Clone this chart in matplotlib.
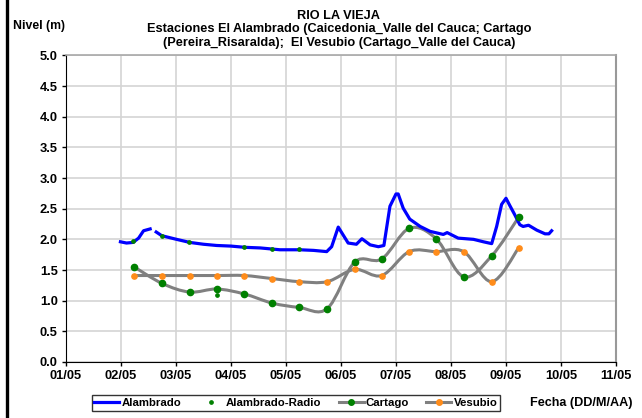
import numpy as np
import matplotlib
matplotlib.use("Agg")
import matplotlib.pyplot as plt
from matplotlib.path import Path
from matplotlib.patches import PathPatch
from matplotlib.lines import Line2D

plt.rcParams['font.family'] = ['Liberation Sans', 'DejaVu Sans']
plt.rcParams['font.weight'] = 'bold'

# days of May 2005
alam_x = [1.99, 2.1, 2.22, 2.32, 2.41, 2.53, np.nan, 2.64, 2.74, 3.01, 3.25, 3.5, 3.74, 4.0, 4.25,
          4.53, 4.89, 5.25, 5.5, 5.74, 5.83, 5.95, 6.13, 6.28, 6.38, 6.53, 6.68, 6.78, 6.89, 7.0,
          7.04, 7.13, 7.25, 7.44, 7.62, 7.86, 7.93, 8.13, 8.41, 8.59, 8.74, 8.83, 8.92, 9.0, 9.07,
          9.16, 9.25, 9.31, 9.41, 9.56, 9.71, 9.78, 9.83]
alam_y = [1.96, 1.94, 1.95, 2.02, 2.14, 2.17, np.nan, 2.12, 2.06, 2.0, 1.95, 1.92, 1.90, 1.89, 1.87,
          1.86, 1.83, 1.83, 1.82, 1.80, 1.88, 2.20, 1.94, 1.92, 2.01, 1.91, 1.88, 1.90, 2.54, 2.74,
          2.74, 2.51, 2.33, 2.21, 2.13, 2.08, 2.11, 2.02, 2.0, 1.96, 1.93, 2.21, 2.57, 2.67, 2.55,
          2.40, 2.24, 2.21, 2.23, 2.15, 2.09, 2.09, 2.14]

radio_x = [2.22, 2.74, 3.24, 3.74, 4.24, 4.75, 5.24]
radio_y = [1.97, 2.06, 1.96, 1.10, 1.88, 1.85, 1.84]

cart_x = [2.24, 2.75, 3.25, 3.74, 4.24, 4.75, 5.24, 5.75, 6.25, 6.74, 7.24, 7.73, 8.23, 8.74, 9.23]
cart_y = [1.55, 1.28, 1.14, 1.19, 1.11, 0.96, 0.89, 0.87, 1.63, 1.68, 2.18, 2.01, 1.39, 1.73, 2.36]

vesu_x = [2.24, 2.75, 3.25, 3.74, 4.24, 4.75, 5.24, 5.75, 6.25, 6.74, 7.24, 7.73, 8.23, 8.74, 9.23]
vesu_y = [1.41, 1.41, 1.41, 1.41, 1.41, 1.36, 1.31, 1.31, 1.51, 1.41, 1.80, 1.80, 1.80, 1.31, 1.86]

day_ticks = list(range(1, 12))
day_labels = ['{:02d}/05'.format(d) for d in day_ticks]

BLUE = '#0000FF'
GREEN = '#008000'
GRAY = '#808080'
ORANGE = '#FF8C1A'


def smooth_path(xs, ys):
    # Excel-like smoothed line as cubic Bezier segments
    p = np.column_stack([xs, ys])
    verts = [p[0]]
    codes = [Path.MOVETO]
    n = len(p)
    for i in range(n - 1):
        p0 = p[i - 1] if i > 0 else p[i]
        p1 = p[i]
        p2 = p[i + 1]
        p3 = p[i + 2] if i + 2 < n else p[i + 1]
        verts += [p1 + (p2 - p0) / 6.0, p2 - (p3 - p1) / 6.0, p2]
        codes += [Path.CURVE4] * 3
    return Path(verts, codes)


fig = plt.figure(figsize=(6.42, 4.18), dpi=100)
ax = fig.add_axes([0.1028, 0.134, 0.8567, 0.7335])

ax.set_xlim(1, 11)
ax.set_ylim(0, 5)
ax.set_xticks(day_ticks)
ax.set_xticklabels(day_labels)
ax.set_yticks(np.arange(0, 5.01, 0.5))
ax.set_yticklabels(['{:.1f}'.format(v) for v in np.arange(0, 5.01, 0.5)])
ax.grid(True, color='#D4D4D4', linewidth=1.2)
ax.set_axisbelow(True)
ax.tick_params(labelsize=9.3, length=3, width=1, pad=3, color='black')
for lab in ax.get_xticklabels() + ax.get_yticklabels():
    lab.set_fontweight('bold')
ax.spines['left'].set_color('black')
ax.spines['bottom'].set_color('black')
ax.spines['top'].set_color('#A8A8A8')
ax.spines['right'].set_color('#999999')
ax.spines['top'].set_linewidth(1.2)
ax.spines['right'].set_linewidth(1.5)

# smoothed gray lines
for xs, ys in [(cart_x, cart_y), (vesu_x, vesu_y)]:
    ax.add_patch(PathPatch(smooth_path(xs, ys), facecolor='none', edgecolor=GRAY,
                           linewidth=2.2, zorder=3))

ax.plot(alam_x, alam_y, color=BLUE, linewidth=2.3, zorder=4)
ax.plot(cart_x, cart_y, 'o', color=GREEN, markersize=4.5, zorder=5)
ax.plot(vesu_x, vesu_y, 'o', color=ORANGE, markersize=3.8, zorder=5)
ax.plot(radio_x, radio_y, 'o', color=GREEN, markersize=2.4, zorder=6)

title_kw = dict(ha='center', va='center', fontsize=9.2, fontweight='bold')
fig.text(0.528, 0.962, 'RIO LA VIEJA', **title_kw)
fig.text(0.528, 0.930, 'Estaciones El Alambrado (Caicedonia_Valle del Cauca; Cartago', **title_kw)
fig.text(0.528, 0.897, '(Pereira_Risaralda);  El Vesubio (Cartago_Valle del Cauca)', **title_kw)
fig.text(0.061, 0.938, 'Nivel (m)', ha='center', va='center', fontsize=8.8, fontweight='bold')
fig.text(0.906, 0.036, 'Fecha (DD/M/AA)', ha='center', va='center', fontsize=9.1, fontweight='bold')

# black bar on the left edge
fig.add_artist(Line2D([0.0105, 0.0105], [0, 1], transform=fig.transFigure, color='black', linewidth=2.4))

handles = [
    Line2D([], [], color=BLUE, linewidth=2.3),
    Line2D([], [], color=GREEN, marker='o', markersize=2.4, linestyle='none'),
    Line2D([], [], color=GRAY, linewidth=2.2, marker='o', markersize=4, markerfacecolor=GREEN,
           markeredgecolor=GREEN),
    Line2D([], [], color=GRAY, linewidth=2.2, marker='o', markersize=4, markerfacecolor=ORANGE,
           markeredgecolor=ORANGE),
]
leg = fig.legend(handles, ['Alambrado', 'Alambrado-Radio', 'Cartago', 'Vesubio'],
                 loc='center', bbox_to_anchor=(0.461, 0.036), ncol=4,
                 frameon=True, fancybox=False, handlelength=2.2, handletextpad=0.2,
                 columnspacing=1.5, borderpad=0.25, prop={'weight': 'bold', 'size': 8.2})
leg.get_frame().set_edgecolor('black')
leg.get_frame().set_linewidth(1)

fig.savefig('out.png', dpi=100)
